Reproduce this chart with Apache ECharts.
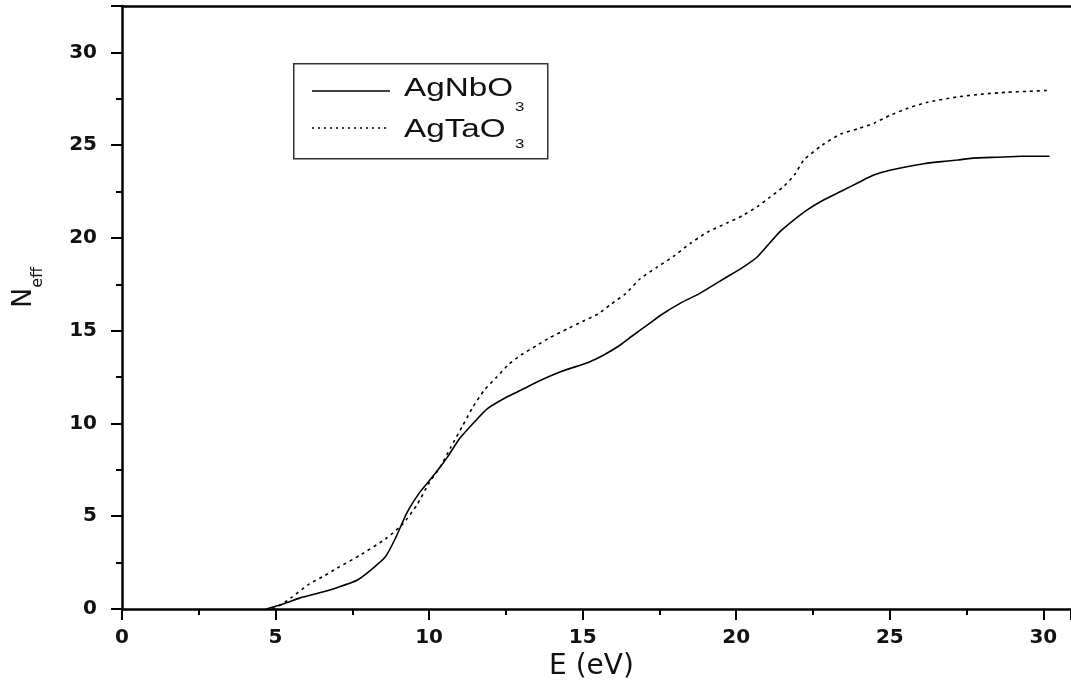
<!DOCTYPE html>
<html>
<head>
<meta charset="utf-8">
<script src="https://cdn.jsdelivr.net/npm/echarts@6/dist/echarts.min.js"></script>
<style>
html,body{margin:0;padding:0;background:#fff;}
#chart{width:1071px;height:689px;}
</style>
</head>
<body>
<div id="chart"></div>
<script>
// ---- data ----
const seriesNames = ['AgNbO3', 'AgTaO3'];
const xTicks = [0, 5, 10, 15, 20, 25, 30];
const yTicks = [0, 5, 10, 15, 20, 25, 30];

const eNb = [4.7, 5.3, 5.8, 6.5, 7.0, 7.65, 8.1, 8.57, 8.9, 9.28, 9.7, 10.0, 10.36, 10.6, 11.0, 11.43, 11.9, 12.5, 13.0, 13.6, 14.3, 15.2, 15.7, 16.2, 16.6, 17.1, 17.6, 18.2, 18.8, 19.6, 20.2, 20.7, 21.4, 21.9, 22.3, 22.8, 23.4, 24.0, 24.5, 25.0, 25.6, 26.1, 26.6, 27.2, 27.7, 28.5, 29.3, 30.2];
const nNb = [0, 0.3, 0.6, 0.9, 1.15, 1.55, 2.1, 2.8, 3.8, 5.2, 6.3, 6.9, 7.65, 8.2, 9.2, 10.0, 10.8, 11.4, 11.8, 12.3, 12.8, 13.3, 13.7, 14.2, 14.7, 15.3, 15.9, 16.5, 17.0, 17.8, 18.4, 19.0, 20.3, 21.0, 21.5, 22.0, 22.5, 23.0, 23.4, 23.65, 23.85, 24.0, 24.1, 24.2, 24.3, 24.35, 24.4, 24.4];

const eTa = [4.9, 5.2, 5.5, 6.1, 6.6, 7.0, 7.75, 8.6, 9.15, 9.6, 10.0, 10.36, 10.7, 11.1, 11.43, 11.8, 12.2, 12.6, 13.0, 13.5, 13.9, 14.5, 15.0, 15.5, 15.9, 16.4, 16.87, 17.4, 17.95, 18.5, 19.05, 19.7, 20.2, 20.7, 21.1, 21.5, 21.9, 22.2, 22.8, 23.4, 24.0, 24.5, 25.0, 25.6, 26.2, 27.2, 28.0, 28.8, 29.5, 30.2];
const nTa = [0, 0.25, 0.6, 1.35, 1.8, 2.2, 2.9, 3.8, 4.6, 5.6, 6.8, 7.65, 8.7, 9.9, 10.9, 11.8, 12.5, 13.2, 13.7, 14.2, 14.6, 15.1, 15.5, 15.9, 16.4, 17.0, 17.8, 18.4, 19.0, 19.7, 20.3, 20.8, 21.2, 21.7, 22.2, 22.7, 23.4, 24.2, 25.0, 25.6, 25.9, 26.2, 26.6, 27.0, 27.3, 27.6, 27.75, 27.85, 27.9, 27.95];

const pairs = (xs, ys) => xs.map((x, i) => [x, ys[i]]);

const chart = echarts.init(document.getElementById('chart'), null, {renderer: 'canvas'});

const tickFont = {color: '#111', fontFamily: 'DejaVu Sans', fontWeight: 'bold', fontSize: 20};

const option = {
  backgroundColor: '#fff',
  animation: false,
  grid: {left: 122, right: 0, top: 6, bottom: 80, containLabel: false},
  xAxis: [{
    type: 'value', min: 0, max: 30.9, interval: 5,
    name: 'E (eV)', nameLocation: 'middle', nameGap: 42,
    nameTextStyle: {fontFamily: 'DejaVu Sans', fontSize: 28, color: '#111', padding: [0, 10, 0, 0]},
    axisLine: {show: true, onZero: false, lineStyle: {color: '#000', width: 2.5}},
    axisTick: {show: true, inside: false, length: 11, lineStyle: {color: '#000', width: 2}},
    minorTick: {show: true, splitNumber: 2, length: 6, lineStyle: {color: '#000', width: 2}},
    axisLabel: Object.assign({margin: 19, showMaxLabel: false,
      formatter: v => xTicks.includes(v) ? String(v) : ''}, tickFont),
    splitLine: {show: false}
  }, {
    type: 'value', position: 'top', min: 0, max: 30.9,
    axisLine: {show: true, onZero: false, lineStyle: {color: '#000', width: 2.5}},
    axisTick: {show: false}, axisLabel: {show: false}, splitLine: {show: false}
  }],
  yAxis: {
    type: 'value', min: 0, max: 32.5, interval: 5,
    name: '{n|N}{s|eff}', nameLocation: 'middle', nameGap: 76, nameRotate: 90,
    nameTextStyle: {
      color: '#111',
      rich: {
        n: {fontFamily: 'DejaVu Sans', fontSize: 27, color: '#111'},
        s: {fontFamily: 'DejaVu Sans', fontSize: 16, color: '#111', padding: [28, 0, 0, 0]}
      },
      padding: [0, 0, 0, 40]
    },
    axisLine: {show: true, onZero: false, lineStyle: {color: '#000', width: 2.5}},
    axisTick: {show: true, inside: false, length: 11, lineStyle: {color: '#000', width: 2}},
    minorTick: {show: true, splitNumber: 2, length: 6, lineStyle: {color: '#000', width: 2}},
    axisLabel: Object.assign({margin: 25, showMaxLabel: false,
      formatter: v => yTicks.includes(v) ? String(v) : ''}, tickFont),
    splitLine: {show: false}
  },
  series: [{
    name: seriesNames[0], type: 'line', showSymbol: false, smooth: 0.2,
    data: pairs(eNb, nNb),
    lineStyle: {color: '#000', width: 1.6, type: 'solid'}
  }, {
    name: seriesNames[1], type: 'line', showSymbol: false, smooth: 0.2,
    data: pairs(eTa, nTa),
    lineStyle: {color: '#000', width: 1.6, type: [3, 4]}
  }],
  graphic: [
    {type: 'rect', left: 293, top: 63, shape: {width: 254, height: 95},
     style: {fill: '#fff', stroke: '#333', lineWidth: 1.5}, z: 100},
    {type: 'line', shape: {x1: 312, y1: 91, x2: 390, y2: 91},
     style: {stroke: '#000', lineWidth: 1.6}, z: 101},
    {type: 'line', shape: {x1: 312, y1: 128, x2: 388, y2: 128},
     style: {stroke: '#000', lineWidth: 1.6, lineDash: [2, 4]}, z: 101},
    {type: 'text', x: 404, y: 89, scaleX: 1.33, z: 101,
     style: {text: 'AgNbO', font: '25px "Liberation Sans"', fill: '#111', verticalAlign: 'middle', align: 'left'}},
    {type: 'text', x: 515, y: 108, scaleX: 1.4, z: 101,
     style: {text: '3', font: '12px "Liberation Sans"', fill: '#111', verticalAlign: 'middle', align: 'left'}},
    {type: 'text', x: 404, y: 130, scaleX: 1.33, z: 101,
     style: {text: 'AgTaO', font: '25px "Liberation Sans"', fill: '#111', verticalAlign: 'middle', align: 'left'}},
    {type: 'text', x: 515, y: 145, scaleX: 1.4, z: 101,
     style: {text: '3', font: '12px "Liberation Sans"', fill: '#111', verticalAlign: 'middle', align: 'left'}}
  ]
};
chart.setOption(option);
</script>
</body>
</html>
